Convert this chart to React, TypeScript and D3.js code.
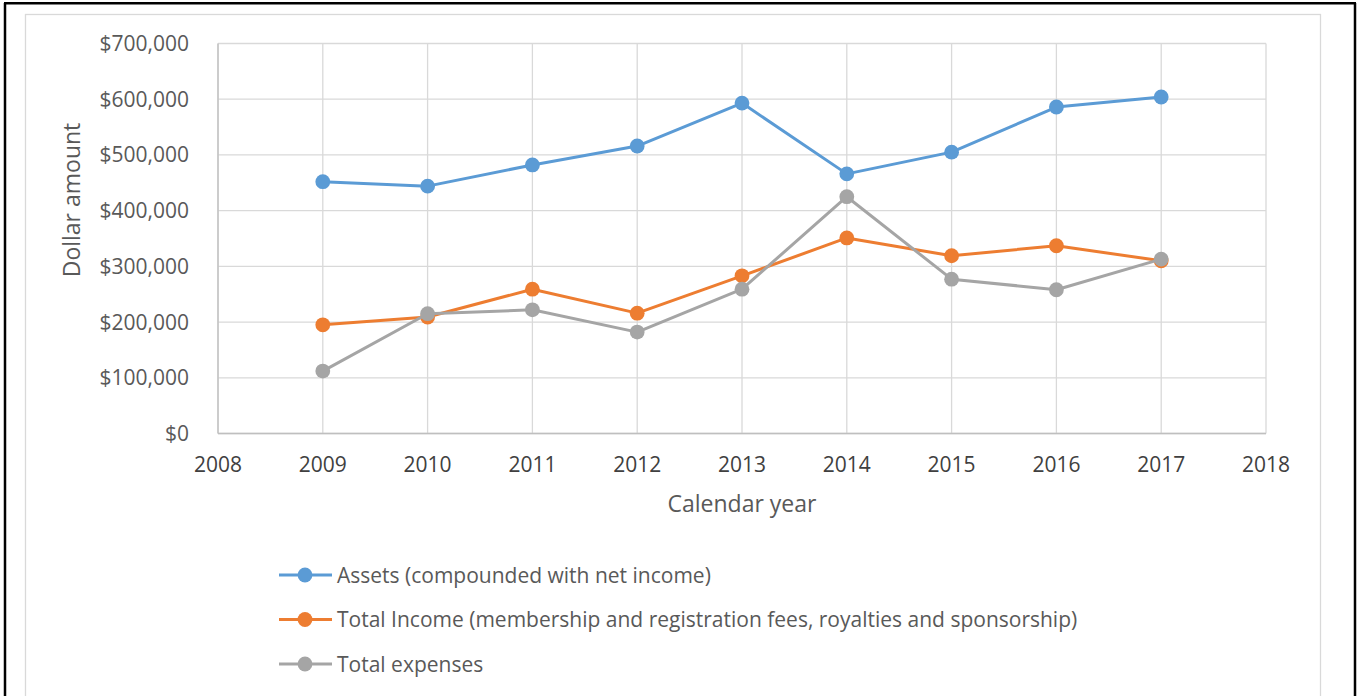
import React from "react";
import * as d3 from "d3";

const years = [2009, 2010, 2011, 2012, 2013, 2014, 2015, 2016, 2017];
const assets = [452000, 444000, 482000, 516000, 593000, 466000, 505000, 586000, 604000];
const income = [195000, 209000, 259000, 216000, 283000, 351000, 319000, 337000, 310000];
const expenses = [112000, 215000, 222000, 182000, 259000, 425000, 277000, 258000, 313000];
const xTicks = [2008, 2009, 2010, 2011, 2012, 2013, 2014, 2015, 2016, 2017, 2018];
const yTicks = [0, 100000, 200000, 300000, 400000, 500000, 600000, 700000];
const seriesNames = [
  "Assets (compounded with net income)",
  "Total Income (membership and registration fees, royalties and sponsorship)",
  "Total expenses",
];
const seriesColors = ["#5B9BD5", "#ED7D31", "#A5A5A5"];

const W = 1358;
const H = 696;
const FONT = "'Open Sans', 'Noto Sans', sans-serif";

export default function App() {
  React.useEffect(() => {
    document.body.style.margin = "0";
  }, []);
  const x = d3.scaleLinear().domain([2008, 2018]).range([218, 1266]);
  const y = d3.scaleLinear().domain([0, 700000]).range([433.5, 43.5]);
  const line = d3
    .line<[number, number]>()
    .x((d) => x(d[0]))
    .y((d) => y(d[1]));
  const fmt = (v: number) => "$" + d3.format(",")(v);
  const series = [assets, income, expenses];

  return (
    <svg width={W} height={H} style={{ display: "block" }}>
      <rect x={0} y={0} width={W} height={H} fill="#fff" />
      {/* outer black frame */}
      <line x1={5} y1={3} x2={5} y2={H + 5} stroke="#000" strokeWidth={2.5} />
      <line x1={4} y1={3.2} x2={1356} y2={3.2} stroke="#000" strokeWidth={2.5} />
      <line x1={1355} y1={3} x2={1355} y2={H + 5} stroke="#000" strokeWidth={2.5} />
      {/* chart area border */}
      <rect x={25.5} y={14.5} width={1295} height={H + 20} fill="none" stroke="#D9D9D9" strokeWidth={1.3} />
      {/* gridlines */}
      {yTicks.map((t) => (
        <line key={"gy" + t} x1={218} x2={1266} y1={y(t)} y2={y(t)} stroke="#D9D9D9" strokeWidth={1.3} />
      ))}
      {xTicks.map((t) => (
        <line key={"gx" + t} x1={x(t)} x2={x(t)} y1={y(700000)} y2={y(0)} stroke="#D9D9D9" strokeWidth={1.3} />
      ))}
      {/* axes */}
      <line x1={218} x2={218} y1={y(700000)} y2={y(0)} stroke="#BFBFBF" strokeWidth={1.3} />
      <line x1={218} x2={1266} y1={y(0)} y2={y(0)} stroke="#BFBFBF" strokeWidth={1.3} />
      {/* y tick labels */}
      {yTicks.map((t) => (
        <text key={"ly" + t} x={189} y={y(t) + 7.5} textAnchor="end" fontFamily={FONT} fontSize={21} fill="#595959">
          {fmt(t)}
        </text>
      ))}
      {/* x tick labels */}
      {xTicks.map((t) => (
        <text key={"lx" + t} x={x(t)} y={472} textAnchor="middle" fontFamily={FONT} fontSize={21} fill="#404040">
          {t}
        </text>
      ))}
      {/* axis titles */}
      <text
        transform={`translate(80,200) rotate(-90)`}
        textAnchor="middle"
        fontFamily={FONT}
        fontSize={23}
        fill="#595959"
      >
        Dollar amount
      </text>
      <text x={742} y={512} textAnchor="middle" fontFamily={FONT} fontSize={23} fill="#595959">
        Calendar year
      </text>
      {/* series */}
      {series.map((vals, i) => {
        const pts = years.map((yr, j) => [yr, vals[j]] as [number, number]);
        return (
          <g key={"s" + i}>
            <path d={line(pts) || ""} fill="none" stroke={seriesColors[i]} strokeWidth={3} strokeLinejoin="round" />
            {pts.map((p, j) => (
              <circle key={j} cx={x(p[0])} cy={y(p[1])} r={7.4} fill={seriesColors[i]} />
            ))}
          </g>
        );
      })}
      {/* legend */}
      {seriesNames.map((name, i) => {
        const ly = 575 + i * 44.5;
        return (
          <g key={"lg" + i}>
            <line x1={279} x2={332} y1={ly} y2={ly} stroke={seriesColors[i]} strokeWidth={3} />
            <circle cx={305} cy={ly} r={7.4} fill={seriesColors[i]} />
            <text x={337} y={ly + 7.5} fontFamily={FONT} fontSize={21} fill="#595959">
              {name}
            </text>
          </g>
        );
      })}
    </svg>
  );
}
